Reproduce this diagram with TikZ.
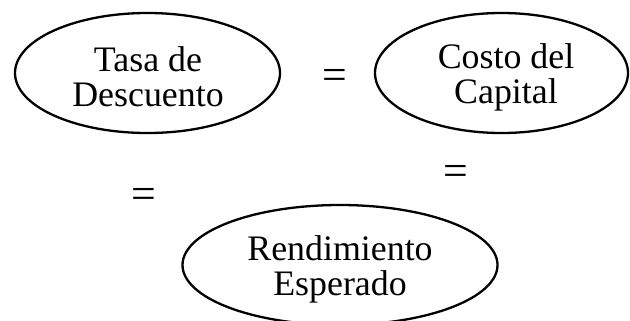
\documentclass[tikz,border=0pt]{standalone}
\usepackage{fontspec}
\setmainfont{Liberation Serif}
\usetikzlibrary{shapes.geometric}
\begin{document}
\begin{tikzpicture}[x=1bp,y=-1bp,
  oval/.style={draw, line width=2.3bp, ellipse, inner sep=0pt},
  lbl/.style={align=center, inner sep=0pt, font=\fontsize{36}{35}\selectfont},
  eq/.style={inner sep=0pt, font=\fontsize{44}{44}\selectfont}]
\useasboundingbox (0,0) rectangle (630,320);
\node[oval, minimum width=265bp, minimum height=120bp] (tasa) at (147.5,73) {};
\node[lbl] (tasaT) at (148,77) {Tasa de\\Descuento};
\node[oval, minimum width=253bp, minimum height=120bp] (costo) at (501.5,73) {};
\node[lbl] (costoT) at (506,77) {Costo del\\Capital};
\node[oval, minimum width=315bp, minimum height=120bp] (rend) at (340,265) {};
\node[lbl] (rendT) at (340,269) {Rendimiento\\Esperado};
\node[eq] (eq1) at (335,79) {=};
\node[eq] (eq2) at (144,198) {=};
\node[eq] (eq3) at (456,175) {=};
\end{tikzpicture}
\end{document}
